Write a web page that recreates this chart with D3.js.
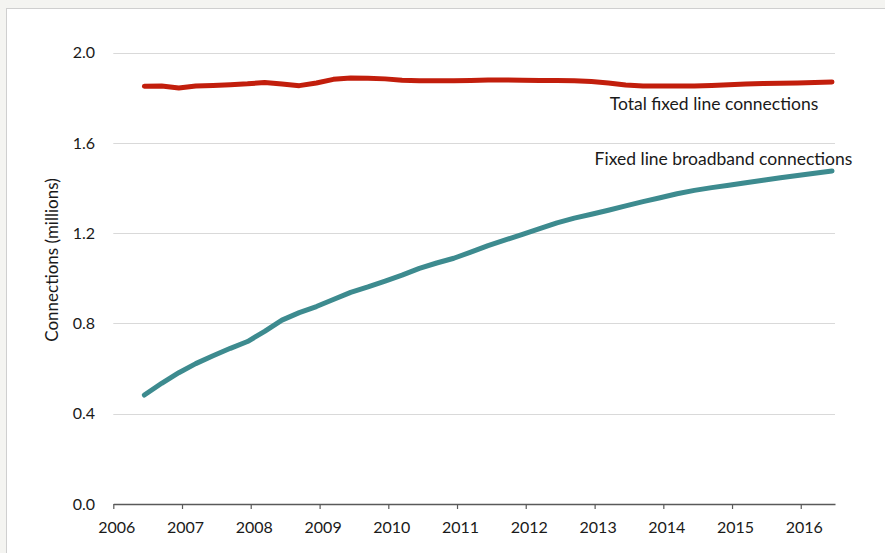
<!DOCTYPE html>
<html><head><meta charset="utf-8">
<script src="https://cdn.jsdelivr.net/npm/d3@7"></script>
<style>
html,body{margin:0;padding:0;background:#f4f4f1;}
svg{display:block;}
text{font-family:Lato, "Open Sans", sans-serif;fill:#1a1a1a;}
</style></head>
<body>
<svg id="chart" width="885" height="553"></svg>
<script>
// Quarterly observations (mid-month of Mar/Jun/Sep/Dec)
const periods = ["2006-06","2006-09","2006-12","2007-03","2007-06","2007-09","2007-12","2008-03","2008-06","2008-09","2008-12","2009-03","2009-06","2009-09","2009-12","2010-03","2010-06","2010-09","2010-12","2011-03","2011-06","2011-09","2011-12","2012-03","2012-06","2012-09","2012-12","2013-03","2013-06","2013-09","2013-12","2014-03","2014-06","2014-09","2014-12","2015-03","2015-06","2015-09","2015-12","2016-03","2016-06"];
const totalFixed = [1.851,1.852,1.844,1.852,1.855,1.858,1.862,1.868,1.861,1.854,1.866,1.882,1.888,1.887,1.884,1.878,1.876,1.876,1.876,1.877,1.879,1.879,1.878,1.877,1.877,1.876,1.872,1.866,1.857,1.852,1.852,1.852,1.852,1.855,1.858,1.861,1.864,1.865,1.866,1.868,1.870];
const broadband = [0.483,0.535,0.582,0.622,0.657,0.690,0.720,0.765,0.815,0.848,0.875,0.906,0.938,0.962,0.988,1.014,1.044,1.068,1.089,1.116,1.145,1.170,1.195,1.220,1.246,1.267,1.284,1.302,1.321,1.340,1.357,1.375,1.390,1.402,1.413,1.424,1.435,1.446,1.456,1.466,1.476];
const yearTicks = [2006,2007,2008,2009,2010,2011,2012,2013,2014,2015,2016];
const yTicks = [0.0,0.4,0.8,1.2,1.6,2.0];
const seriesNames = ["Total fixed line connections","Fixed line broadband connections"];
const yTitle = "Connections (millions)";

const svg = d3.select("#chart");
// panel
svg.append("rect").attr("x",6.5).attr("y",8.5).attr("width",900).attr("height",600)
  .attr("fill","#ffffff").attr("stroke","#cfcfcf").attr("stroke-width",1);

const parse = d3.timeParse("%Y-%m-%d");
const dates = periods.map(p => parse(p + "-15"));

const x = d3.scaleTime().domain([new Date(2006,0,1), new Date(2016,6,1)]).range([113.3,835]);
const y = d3.scaleLinear().domain([0,2]).range([504,52.7]);

// gridlines
svg.append("g").selectAll("line").data(yTicks.filter(d=>d>0)).join("line")
  .attr("x1",113.3).attr("x2",835)
  .attr("y1",d=>Math.round(y(d))+0.5).attr("y2",d=>Math.round(y(d))+0.5)
  .attr("stroke","#d9d9d9").attr("stroke-width",1);

// y labels
svg.append("g").selectAll("text").data(yTicks).join("text")
  .attr("x",95).attr("y",d=>y(d)).attr("dy","0.35em").attr("text-anchor","end")
  .attr("font-size",16).text(d=>d.toFixed(1));

// x axis
const xAxis = d3.axisBottom(x).tickValues(yearTicks.map(v=>new Date(v,0,1)))
  .tickFormat(d3.timeFormat("%Y")).tickSize(5).tickSizeOuter(0);
const gx = svg.append("g").attr("transform","translate(0,504)").call(xAxis);
gx.select(".domain").attr("stroke","#595959").attr("stroke-width",1.5);
gx.selectAll(".tick line").attr("stroke","#595959").attr("stroke-width",1.2);
gx.selectAll(".tick text").attr("font-size",16).attr("font-family","Lato, sans-serif")
  .attr("fill","#1a1a1a").attr("y",18).attr("dx","3");

// y title
svg.append("text").attr("transform","translate(52,260) rotate(-90)")
  .attr("text-anchor","middle").attr("dy","0.35em").attr("font-size",17).text(yTitle);

const line = d3.line().x((d,i)=>x(dates[i])).y(d=>y(d));
svg.append("path").datum(totalFixed).attr("d",line).attr("fill","none")
  .attr("stroke","#c21e0c").attr("stroke-width",5).attr("stroke-linecap","round").attr("stroke-linejoin","round");
svg.append("path").datum(broadband).attr("d",line).attr("fill","none")
  .attr("stroke","#3d8b8f").attr("stroke-width",5).attr("stroke-linecap","round").attr("stroke-linejoin","round");

// series labels
svg.append("text").attr("x",714).attr("y",104).attr("dy","0.35em").attr("text-anchor","middle")
  .attr("font-size",17.5).text(seriesNames[0]);
svg.append("text").attr("x",723.5).attr("y",159).attr("dy","0.35em").attr("text-anchor","middle")
  .attr("font-size",17.5).text(seriesNames[1]);
</script>
</body></html>
